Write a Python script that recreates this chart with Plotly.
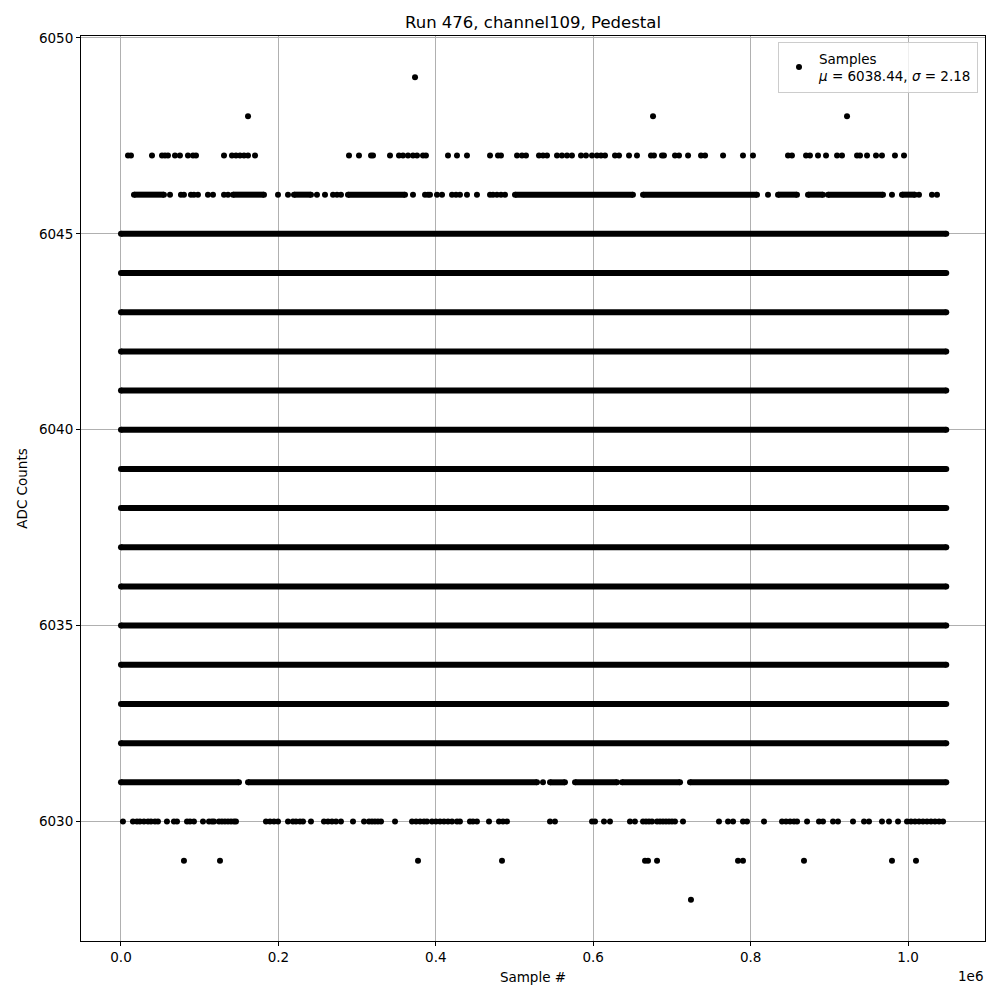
import plotly.graph_objects as go

# ---------------- data (sample positions in kilo-samples) ----------------
n_samples = 1048576
title = "Run 476, channel109, Pedestal"
legend_label = "Samples<br><i>μ</i> = 6038.44, <i>σ</i> = 2.18"

# rows that are continuously filled over the whole run
full_rows = [6032, 6033, 6034, 6035, 6036, 6037, 6038, 6039, 6040, 6041, 6042, 6043, 6044, 6045]

# partially filled rows: continuous stretches [start_k, end_k]
row6031_segments = [[0.0, 149.9], [161.4, 528.6], [545.1, 564.1], [576.9, 630.2],
                    [636.6, 710.3], [723.0, 1048.575]]
row6031_points = [536.2]

row6046_segments = [[16.5, 54.6], [142.3, 181.7], [219.8, 241.4], [288.4, 360.9],
                    [500.6, 650.5], [663.3, 808.1], [834.8, 858.9], [872.9, 891.9],
                    [898.3, 968.2], [992.3, 1008.8]]
row6046_points = [62.3, 76.2, 80.0, 88.9, 92.7, 97.8, 110.5, 116.9, 130.9, 136.0, 199.5,
                  212.2, 249.0, 259.2, 269.4, 274.5, 279.5, 371.0, 386.3, 390.1, 392.6,
                  401.5, 407.9, 420.6, 425.7, 430.7, 439.6, 452.3, 468.9, 472.7, 477.7,
                  482.8, 487.9, 822.1, 979.6, 1013.9, 1030.4, 1036.8]

row6047_points = [8.9, 12.7, 39.4, 52.1, 55.9, 59.7, 68.6, 74.9, 85.1, 91.5, 95.3, 130.9,
                  141.0, 146.1, 151.2, 156.3, 161.4, 170.3, 289.7, 302.4, 317.7, 320.2,
                  341.8, 353.2, 358.3, 364.7, 371.0, 376.1, 383.7, 387.5, 415.5, 426.9,
                  439.6, 468.9, 479.0, 482.8, 503.2, 509.5, 514.6, 531.1, 536.2, 541.3,
                  554.0, 560.3, 566.7, 573.0, 584.5, 590.8, 598.5, 604.8, 609.9, 615.0,
                  627.7, 632.8, 645.5, 655.6, 673.4, 677.2, 687.4, 689.9, 703.9, 709.0,
                  720.5, 737.0, 742.1, 765.0, 790.3, 803.0, 847.5, 852.5, 870.4, 875.4,
                  885.6, 895.8, 909.8, 916.1, 935.2, 939.0, 947.9, 959.3, 966.9, 983.4, 994.9]

row6048_points = [161.4, 676.0, 922.5]
row6049_points = [373.6]

row6030_points = [2.5, 15.2, 20.3, 24.1, 29.2, 34.3, 38.1, 43.2, 47.0, 58.4, 67.3, 71.2,
                  83.9, 87.7, 92.7, 104.2, 111.8, 115.6, 118.2, 124.5, 128.3, 132.1, 136.0,
                  139.8, 143.6, 146.1, 184.2, 189.3, 194.4, 199.5, 212.2, 218.5, 222.4,
                  227.4, 231.3, 241.4, 257.9, 263.0, 268.1, 273.2, 279.5, 294.8, 308.8,
                  315.1, 318.9, 322.7, 326.5, 330.4, 348.2, 369.8, 374.9, 380.0, 385.0,
                  388.8, 395.2, 400.2, 405.3, 410.4, 415.5, 420.6, 426.9, 430.7, 443.4,
                  447.3, 452.3, 467.6, 480.3, 485.4, 490.5, 545.1, 551.4, 598.5, 602.3,
                  613.7, 621.3, 646.7, 653.0, 663.3, 667.1, 670.9, 674.7, 681.1, 684.9,
                  688.7, 692.5, 696.3, 700.1, 703.9, 714.1, 759.8, 771.3, 777.7, 790.3,
                  795.4, 817.0, 839.9, 845.0, 850.1, 855.1, 859.0, 871.7, 886.9, 892.0,
                  904.7, 911.0, 930.1, 944.1, 950.4, 966.9, 975.8, 987.3, 998.7, 1003.8,
                  1008.9, 1014.0, 1019.0, 1024.1, 1029.2, 1034.3, 1039.4, 1044.5]

row6029_points = [80.0, 125.8, 377.4, 484.1, 665.8, 669.6, 681.1, 784.0, 790.3, 867.8,
                  979.6, 1010.1]
row6028_points = [724.2]

x_tick_vals = [0, 200000, 400000, 600000, 800000, 1000000]
x_tick_text = ["0.0", "0.2", "0.4", "0.6", "0.8", "1.0"]
x_range = [-50800, 1097800]
y_tick_vals = [6030, 6035, 6040, 6045, 6050]
y_range = [6026.95, 6050.05]

# ---------------- build traces ----------------
seg_x, seg_y = [], []
for r in full_rows:
    seg_x += [0, n_samples - 1, None]
    seg_y += [r, r, None]
for s in row6031_segments:
    seg_x += [s[0] * 1000, s[1] * 1000, None]
    seg_y += [6031, 6031, None]
for s in row6046_segments:
    seg_x += [s[0] * 1000, s[1] * 1000, None]
    seg_y += [6046, 6046, None]

pt_x, pt_y = [], []
for val, pts in [(6028, row6028_points), (6029, row6029_points), (6030, row6030_points),
                 (6031, row6031_points), (6046, row6046_points), (6047, row6047_points),
                 (6048, row6048_points), (6049, row6049_points)]:
    pt_x += [p * 1000 for p in pts]
    pt_y += [val] * len(pts)

fig = go.Figure()
fig.add_trace(go.Scatter(x=seg_x, y=seg_y, mode="lines+markers", showlegend=False,
                         line=dict(color="black", width=6),
                         marker=dict(color="black", size=6), hoverinfo="skip"))
fig.add_trace(go.Scatter(x=pt_x, y=pt_y, mode="markers", name=legend_label,
                         marker=dict(color="black", size=6)))

font = "DejaVu Sans, sans-serif"
W, H = 992, 992
L, R, T, B = 73, 15, 28, 59
PW, PH = W - L - R, H - T - B
fig.update_layout(
    width=W, height=H,
    margin=dict(l=L, r=R, t=T, b=B),
    paper_bgcolor="white", plot_bgcolor="white",
    font=dict(family=font, size=13.5, color="black"),
    title=dict(text=title, x=(533 - 8) / W, xanchor="center", y=1 - (22 - 8) / H,
               yanchor="middle", font=dict(size=16.5, family=font)),
    showlegend=True,
    legend=dict(x=(978 - 8 - L) / PW, y=1 - 6 / PH, xanchor="right", yanchor="top",
                bgcolor="rgba(255,255,255,0.8)", bordercolor="#cccccc", borderwidth=1,
                font=dict(size=13.5, family=font), itemsizing="trace"),
    xaxis=dict(range=x_range,
               tickvals=x_tick_vals, ticktext=x_tick_text,
               showgrid=True, gridcolor="#b0b0b0", gridwidth=1, zeroline=False,
               showline=True, linecolor="black", linewidth=1, mirror=True,
               ticks="outside", ticklen=4, tickcolor="black",
               title=dict(text="Sample #", standoff=8, font=dict(size=13.5))),
    yaxis=dict(range=y_range, tickvals=y_tick_vals,
               showgrid=True, gridcolor="#b0b0b0", gridwidth=1, zeroline=False,
               showline=True, linecolor="black", linewidth=1, mirror=True,
               ticks="outside", ticklen=4, tickcolor="black",
               title=dict(text="ADC Counts", standoff=8, font=dict(size=13.5))),
)
fig.add_annotation(text="1e6", xref="paper", yref="paper", x=1.0, y=0, xanchor="right",
                   yanchor="top", yshift=-25, showarrow=False, font=dict(size=13.5, family=font))

fig.write_html("out.html")
